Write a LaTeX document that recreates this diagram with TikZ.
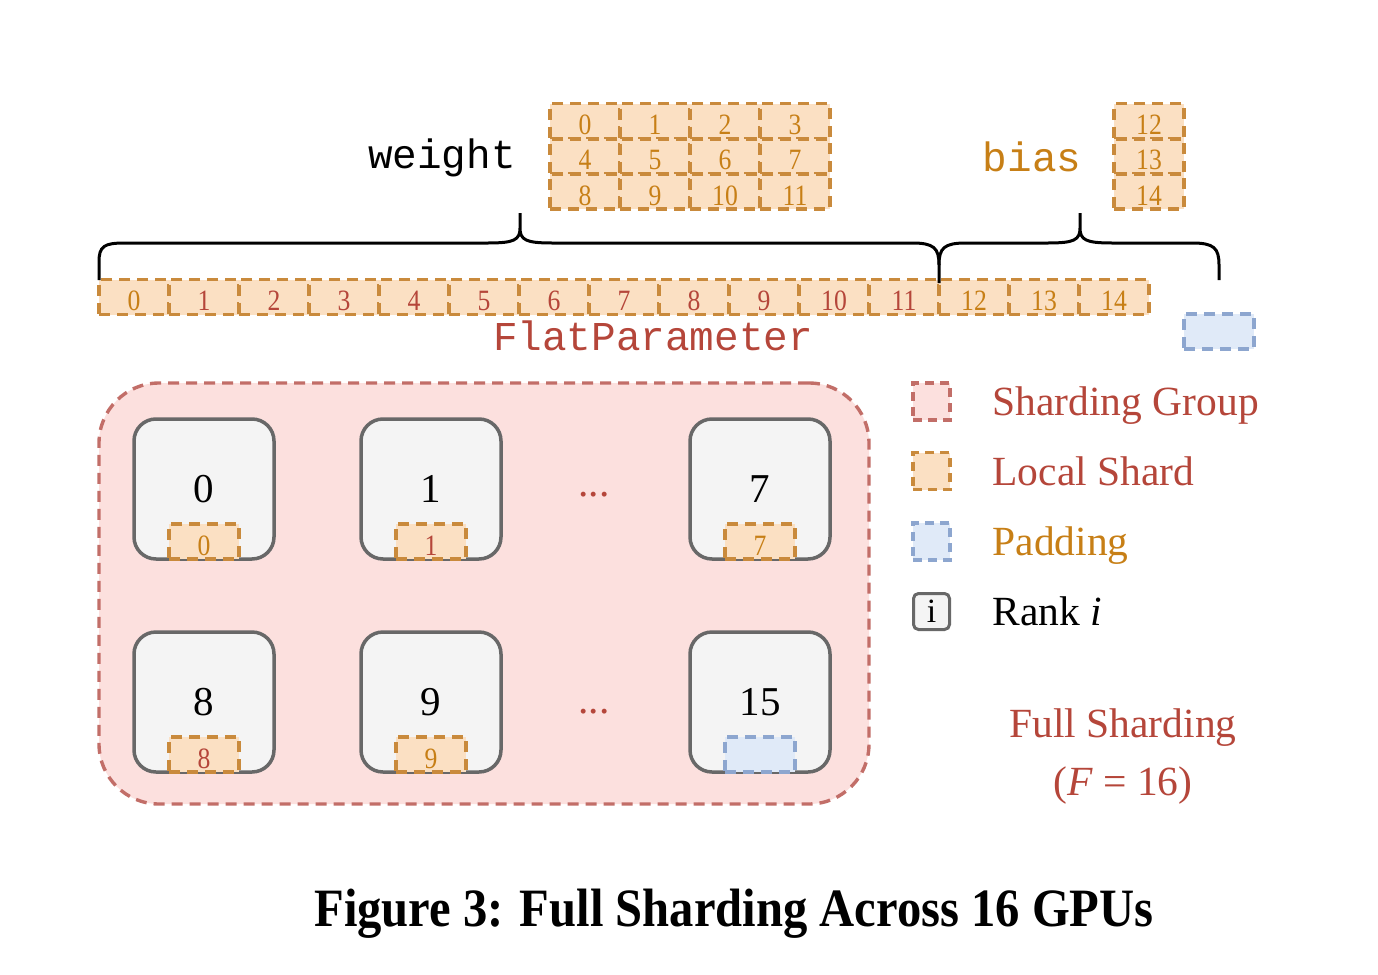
\documentclass[tikz,border=0pt]{standalone}
\usepackage{fontspec}
\setmainfont{Liberation Serif}
\setmonofont{Liberation Mono}
\newfontfamily\capfont[FakeStretch=0.9]{Liberation Serif}
\newfontfamily\digfont[FakeStretch=0.87]{Liberation Serif}
\definecolor{ofill}{HTML}{FBE0C3}
\definecolor{odraw}{HTML}{C98A3C}
\definecolor{pfill}{HTML}{FCE0DE}
\definecolor{pdraw}{HTML}{C26E68}
\definecolor{bfill}{HTML}{E0EAF8}
\definecolor{bdraw}{HTML}{8DA6CF}
\definecolor{gfill}{HTML}{F4F4F4}
\definecolor{gdraw}{HTML}{686868}
\definecolor{tred}{HTML}{B5463A}
\definecolor{torg}{HTML}{C77F16}
\tikzset{
 dsh/.style={dash pattern=on 11pt off 7pt, line width=3.5pt},
 cell/.style={dsh, draw=odraw, fill=ofill, minimum width=70pt, minimum height=35pt, inner sep=0pt, text height=27pt, text depth=0pt, font=\digfont\fontsize{29.5}{29.5}\selectfont},
 pad/.style={dsh, draw=bdraw, fill=bfill, minimum width=70pt, minimum height=35pt, inner sep=0pt},
 rank/.style={draw=gdraw, fill=gfill, line width=3.5pt, rounded corners=22pt, minimum width=140pt, minimum height=140pt, inner sep=0pt, font=\fontsize{41}{41}\selectfont},
 mono/.style={font=\ttfamily\fontsize{41}{41}\selectfont},
 legtxt/.style={anchor=base west, font=\fontsize{41.5}{41.5}\selectfont},
 legbox/.style={dsh, dash pattern=on 9pt off 6pt, line width=3.4pt, minimum size=37pt, inner sep=0pt},
 brace/.style={line width=3pt, black},
 big/.style={font=\fontsize{41.5}{41.5}\selectfont},
}
\begin{document}
\begin{tikzpicture}[x=1pt,y=-1pt]
\useasboundingbox (0,0) rectangle (1378,974);
% weight grid
\foreach \r in {0,1,2} \foreach \c in {0,1,2,3} {
  \pgfmathtruncatemacro\k{4*\r+\c}
  \node[cell, text=torg] (w\k) at ({585+70*\c},{121+35.3*\r}) {\k};
}
\node[mono, text=black] (wl) at (442,158) {weight};
% bias grid
\foreach \r/\k in {0/12,1/13,2/14}
  \node[cell, text=torg] (b\k) at (1149,{121+35.3*\r}) {\k};
\node[mono, text=torg] (bl) at (1032,157) {bias};
% flat parameter
\node[cell, text=torg] (f0) at (134,297) {0};
\foreach \k in {1,...,11} \node[cell, text=tred] (f\k) at ({134+70*\k},297) {\k};
\foreach \k in {12,13,14} \node[cell, text=torg] (f\k) at ({134+70*\k},297) {\k};
\node[pad] (fp) at (1219,331.5) {};
\node[mono, text=tred] (fl) at (653,336) {FlatParameter};
% braces
\coordinate (bL) at (99,280);
\coordinate (bM) at (939,283);
\coordinate (bR) at (1219,280);
\draw[brace] (bL) -- (99,262) .. controls (99,246) and (104,243) .. (125,243) -- (488,243)
  .. controls (514,243) and (520,240) .. (520,228) -- (520,213)
  -- (520,228) .. controls (520,240) and (526,243) .. (552,243) -- (912,243)
  .. controls (934,243) and (939,248) .. (939,265) -- (bM);
\draw[brace] (939,265) .. controls (939,248) and (944,243) .. (966,243) -- (1048,243)
  .. controls (1074,243) and (1080,240) .. (1080,228) -- (1080,213)
  -- (1080,228) .. controls (1080,240) and (1086,243) .. (1112,243) -- (1192,243)
  .. controls (1214,243) and (1219,248) .. (1219,265) -- (bR);
% sharding group
\node[dsh, line width=3.4pt, draw=pdraw, fill=pfill, rounded corners=60pt, minimum width=770pt, minimum height=421pt] (sg) at (484,593.5) {};
% ranks
\foreach \n/\x/\y/\col in {0/204/489/torg, 1/431/489/tred, 7/760/489/torg, 8/204/702/tred, 9/431/702/torg} {
  \node[rank] (r\n) at (\x,\y) {\n};
  \node[cell, anchor=south, text=\col] (s\n) at (r\n.south) {\n};
}
\node[rank] (r15) at (760,702) {15};
\node[pad, anchor=south] (s15) at (r15.south) {};
\node[big, text=tred] (d1) at (594,495) {...};
\node[big, text=tred] (d2) at (594,712) {...};
% legend
\node[legbox, draw=pdraw, fill=pfill] (lg1) at (931.5,401.5) {};
\node[legbox, draw=odraw, fill=ofill] (lg2) at (931.5,471) {};
\node[legbox, draw=bdraw, fill=bfill] (lg3) at (931.5,541.5) {};
\node[draw=gdraw, fill=gfill, line width=3pt, rounded corners=5pt, minimum size=36pt, inner sep=0pt, font=\fontsize{34}{34}\selectfont] (lg4) at (931.5,611.5) {i};
\node[legtxt, text=tred] (lt1) at (989,415) {Sharding Group};
\node[legtxt, text=tred] (lt2) at (989,485) {Local Shard};
\node[legtxt, text=torg] (lt3) at (989,555) {Padding};
\node[legtxt, text=black] (lt4) at (989,625) {Rank \textit{i}};
\node[big, text=tred, anchor=base] (fs1) at (1123,737) {Full Sharding};
\node[big, text=tred, anchor=base] (fs2) at (1123,795) {(\textit{F} = 16)};
% caption
\node[anchor=base, font=\capfont\bfseries\fontsize{54}{54}\selectfont] (cap) at (734,926) {Figure 3: Full Sharding Across 16 GPUs};
\end{tikzpicture}
\end{document}
